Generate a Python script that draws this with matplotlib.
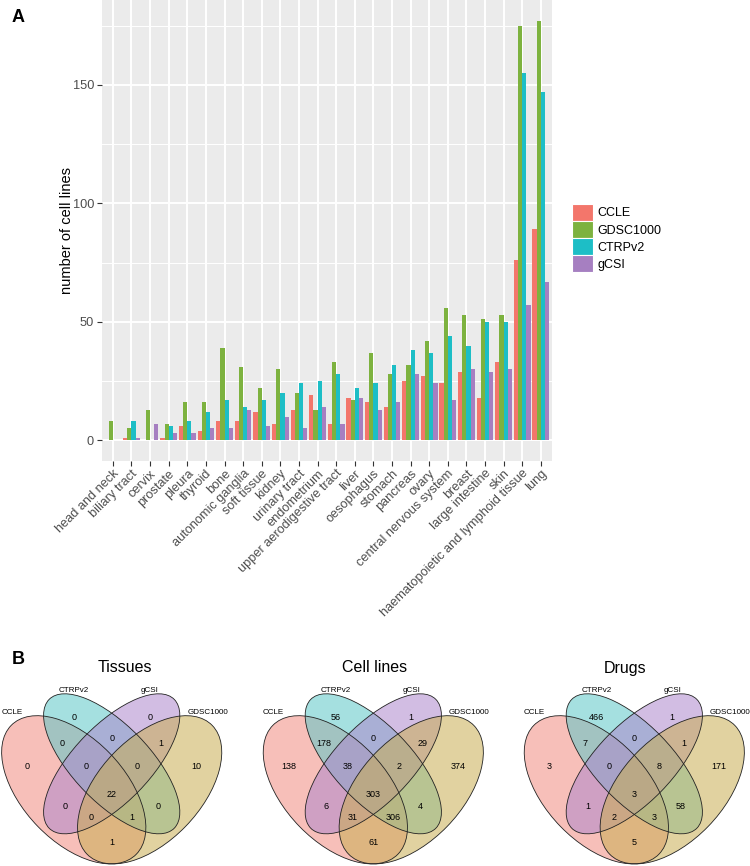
import numpy as np
import matplotlib.pyplot as plt
from matplotlib.patches import Patch, Ellipse

plt.rcParams['font.family'] = ['Liberation Sans', 'DejaVu Sans']

#Panel A data (number of cell lines per tissue and dataset)
tissues = ['head and neck', 'biliary tract', 'cervix', 'prostate', 'pleura', 'thyroid',
           'bone', 'autonomic ganglia', 'soft tissue', 'kidney', 'urinary tract',
           'endometrium', 'upper aerodigestive tract', 'liver', 'oesophagus', 'stomach',
           'pancreas', 'ovary', 'central nervous system', 'breast', 'large intestine',
           'skin', 'haematopoietic and lymphoid tissue', 'lung']
ccle = [0, 1, 0, 1, 6, 4, 8, 8, 12, 7, 13, 19, 7, 18, 16, 14, 25, 27, 24, 29, 18, 33, 76, 89]
gdsc = [8, 5, 13, 7, 16, 16, 39, 31, 22, 30, 20, 13, 33, 17, 37, 28, 32, 42, 56, 53, 51, 53, 175, 177]
ctrp = [0, 8, 0, 6, 8, 12, 17, 14, 17, 20, 24, 25, 28, 22, 24, 32, 38, 37, 44, 40, 50, 50, 155, 147]
gcsi = [0, 1, 7, 3, 3, 5, 5, 13, 6, 10, 5, 14, 7, 18, 13, 16, 28, 24, 17, 30, 29, 30, 57, 67]
datasets = ['CCLE', 'GDSC1000', 'CTRPv2', 'gCSI']

#Panel B data (Venn region counts)
venn_regions = ['CTRPv2', 'gCSI', 'CCLE+CTRPv2', 'CTRPv2+gCSI', 'gCSI+GDSC1000', 'CCLE',
                'CCLE+CTRPv2+gCSI', 'CTRPv2+gCSI+GDSC1000', 'GDSC1000', 'all', 'CCLE+gCSI',
                'CCLE+gCSI+GDSC1000', 'CCLE+CTRPv2+GDSC1000', 'CTRPv2+GDSC1000', 'CCLE+GDSC1000']
tissue_counts = [0, 0, 0, 0, 1, 0, 0, 0, 10, 22, 0, 0, 1, 0, 1]
cellline_counts = [56, 1, 178, 0, 29, 138, 38, 2, 374, 303, 6, 31, 306, 4, 61]
drug_counts = [466, 1, 7, 0, 1, 3, 0, 8, 171, 3, 1, 2, 3, 58, 5]
venn_titles = ['Tissues', 'Cell lines', 'Drugs']

W, H = 750, 866
fig = plt.figure(figsize=(W/100, H/100), dpi=100)

bar_cols = ['#F3766B', '#7DB23F', '#1DBEC6', '#A67FC1']

#--- Panel A ---
x0, x1, yb = 101.7, 552.0, 461.3
ax = fig.add_axes([x0/W, 1-yb/H, (x1-x0)/W, yb/H])
ax.set_facecolor('#EBEBEB')
x = np.arange(1, len(tissues)+1)
bw = 0.9/4
for k, vals in enumerate([ccle, gdsc, ctrp, gcsi]):
 ax.bar(x + (k-1.5)*bw, vals, width=bw, color=bar_cols[k], zorder=3, linewidth=0)
ax.set_xlim(0.4, len(tissues)+0.6)
ax.set_ylim(-8.85, 185.85)
ax.set_yticks([0, 50, 100, 150])
ax.set_yticks([25, 75, 125, 175], minor=True)
ax.set_xticks(x)
ax.set_xticklabels(tissues, rotation=45, ha='right', va='top', rotation_mode='anchor')
ax.grid(which='major', color='white', lw=1.4, zorder=1)
ax.grid(which='minor', axis='y', color='white', lw=0.7, zorder=1)
for s in ax.spines.values():
 s.set_visible(False)
ax.tick_params(axis='both', which='major', length=3.5, width=0.8, color='#333333',
               labelsize=9.2, labelcolor='#4D4D4D', pad=2)
ax.tick_params(axis='x', which='major', pad=1)
ax.tick_params(axis='y', which='minor', length=0)
ax.set_ylabel('number of cell lines', fontsize=10.5)
ax.yaxis.set_label_coords(-0.062, 0.5)

handles = [Patch(facecolor=c, edgecolor='white', lw=0.8) for c in bar_cols]
fig.legend(handles, datasets, loc='center left', bbox_to_anchor=(566/W, 1-238/H),
           frameon=False, fontsize=9, handlelength=1.65, handleheight=1.65,
           labelspacing=0.05, handletextpad=0.35, borderpad=0)

fig.text(12/W, 1-17/H, 'A', fontsize=13, fontweight='bold', va='center')
fig.text(12/W, 1-660/H, 'B', fontsize=13, fontweight='bold', va='center')

#--- Panel B ---
label_pos = [(0.35, 0.75), (0.65, 0.75), (0.305, 0.65), (0.5, 0.668), (0.695, 0.65),
             (0.165, 0.56), (0.4, 0.56), (0.6, 0.56), (0.835, 0.56), (0.5, 0.453),
             (0.315, 0.405), (0.42, 0.364), (0.58, 0.364), (0.685, 0.405), (0.5, 0.268)]
ellipses = [((0.35, 0.47), 0.70, 0.40, -45, '#F28C80'),  # CCLE
            ((0.50, 0.57), 0.70, 0.30, -45, '#5CC8C8'),  # CTRPv2
            ((0.50, 0.57), 0.70, 0.30, 45, '#AE88CC'),   # gCSI
            ((0.65, 0.47), 0.70, 0.40, 45, '#C9AE52')]   # GDSC1000
set_labels = [('CCLE', 0.106, 0.768), ('CTRPv2', 0.35, 0.851),
              ('gCSI', 0.65, 0.851), ('GDSC1000', 0.88, 0.768)]

sx, sy, ytop = 253.0, 260.0, 912.0
vbot = (ytop - H)/sy
centers = [111.7, 373.3, 634.3]
title_x = [125, 375, 625]
for i, counts in enumerate([tissue_counts, cellline_counts, drug_counts]):
 vx = fig.add_axes([(centers[i]-0.5*sx)/W, 0, sx/W, (H-(ytop-sy))/H])
 vx.set_xlim(0, 1)
 vx.set_ylim(vbot, 1)
 vx.axis('off')
 for (c, w, h, ang, col) in ellipses:
  vx.add_patch(Ellipse(c, w, h, angle=ang, facecolor=col, alpha=0.55, edgecolor='none'))
 for (c, w, h, ang, col) in ellipses:
  vx.add_patch(Ellipse(c, w, h, angle=ang, facecolor='none', edgecolor='#222222', lw=0.6))
 for (px, py), n in zip(label_pos, counts):
  vx.text(px, py, str(n), ha='center', va='center', fontsize=6.5)
 for name, px, py in set_labels:
  vx.text(px, py, name, ha='center', va='center', fontsize=5.8)
 fig.text(title_x[i]/W, 1-668/H, venn_titles[i], ha='center', va='center', fontsize=11.5)

fig.savefig('out.png', dpi=100)
